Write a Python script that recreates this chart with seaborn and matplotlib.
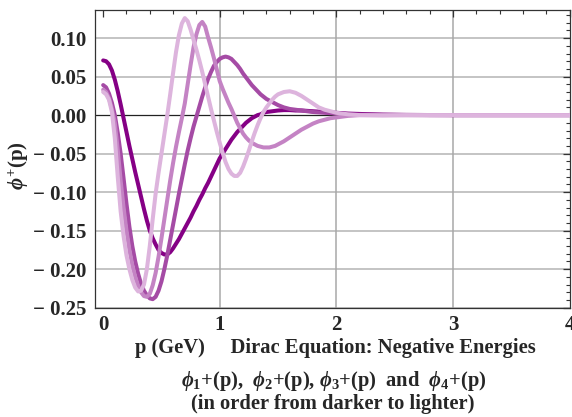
import numpy as np
import pandas as pd
import matplotlib
matplotlib.use("Agg")
import matplotlib.pyplot as plt
from matplotlib.ticker import MultipleLocator, FuncFormatter
import seaborn as sns

# ---- data ----
p_vals = [0.000, 0.025, 0.050, 0.075, 0.100, 0.125, 0.150, 0.175, 0.200, 0.225,
          0.250, 0.275, 0.300, 0.325, 0.350, 0.375, 0.400, 0.425, 0.450, 0.475,
          0.500, 0.525, 0.550, 0.575, 0.600, 0.625, 0.650, 0.675, 0.700, 0.725,
          0.750, 0.775, 0.800, 0.825, 0.850, 0.875, 0.900, 0.925, 0.950, 0.975,
          1.000, 1.025, 1.050, 1.075, 1.100, 1.125, 1.150, 1.175, 1.200, 1.225,
          1.250, 1.275, 1.300, 1.325, 1.350, 1.375, 1.400, 1.425, 1.450, 1.475,
          1.500, 1.550, 1.600, 1.650, 1.700, 1.750, 1.800, 1.850, 1.900, 1.950,
          2.000, 2.050, 2.100, 2.200, 2.400, 2.600, 2.800, 3.000, 3.500, 4.000]

phi1 = [0.071, 0.070, 0.066, 0.058, 0.046, 0.031, 0.014, -0.004, -0.022, -0.040,
        -0.057, -0.074, -0.090, -0.106, -0.122, -0.137, -0.150, -0.160, -0.168, -0.175,
        -0.179, -0.181, -0.181, -0.178, -0.173, -0.167, -0.161, -0.154, -0.147, -0.140,
        -0.133, -0.125, -0.118, -0.110, -0.103, -0.095, -0.088, -0.080, -0.072, -0.064,
        -0.056, -0.050, -0.044, -0.038, -0.032, -0.027, -0.022, -0.018, -0.014, -0.010,
        -0.007, -0.004, -0.002, 0.000, 0.001, 0.003, 0.004, 0.0045, 0.005, 0.0055,
        0.006, 0.0065, 0.0065, 0.006, 0.006, 0.0055, 0.005, 0.0045, 0.004, 0.0035,
        0.003, 0.0025, 0.002, 0.0015, 0.0007, 0.0003, 0.0001, 0.0, 0.0, 0.0]

phi2 = [0.039, 0.036, 0.028, 0.016, 0.000, -0.023, -0.050, -0.082, -0.115, -0.145,
        -0.170, -0.190, -0.206, -0.219, -0.228, -0.234, -0.238, -0.239, -0.236, -0.228,
        -0.216, -0.200, -0.182, -0.162, -0.142, -0.122, -0.102, -0.083, -0.064, -0.046,
        -0.030, -0.015, -0.002, 0.011, 0.024, 0.036, 0.047, 0.056, 0.064, 0.069,
        0.073, 0.075, 0.076, 0.075, 0.073, 0.069, 0.065, 0.060, 0.054, 0.049,
        0.044, 0.039, 0.035, 0.031, 0.027, 0.024, 0.021, 0.019, 0.017, 0.015,
        0.013, 0.010, 0.008, 0.007, 0.006, 0.005, 0.004, 0.0035, 0.003, 0.0025,
        0.002, 0.0015, 0.001, 0.0005, 0.0002, 0.0001, 0.0, 0.0, 0.0, 0.0]

phi3 = [0.033, 0.030, 0.022, 0.008, -0.010, -0.045, -0.085, -0.120, -0.150, -0.175,
        -0.195, -0.210, -0.222, -0.230, -0.235, -0.236, -0.232, -0.221, -0.205, -0.184,
        -0.160, -0.135, -0.110, -0.085, -0.062, -0.041, -0.022, -0.004, 0.015, 0.040,
        0.065, 0.088, 0.105, 0.117, 0.121, 0.115, 0.101, 0.088, 0.074, 0.059,
        0.044, 0.034, 0.025, 0.016, 0.008, -0.001, -0.010, -0.017, -0.024, -0.029,
        -0.033, -0.036, -0.038, -0.040, -0.041, -0.042, -0.042, -0.042, -0.041, -0.040,
        -0.038, -0.034, -0.029, -0.024, -0.019, -0.015, -0.011, -0.008, -0.006, -0.004,
        -0.003, -0.002, -0.001, 0.0, 0.0, 0.0, 0.0, 0.0, 0.0, 0.0]

phi4 = [0.030, 0.027, 0.020, 0.004, -0.030, -0.080, -0.125, -0.157, -0.182, -0.200,
        -0.214, -0.224, -0.229, -0.228, -0.220, -0.200, -0.170, -0.135, -0.102, -0.075,
        -0.050, -0.025, 0.000, 0.027, 0.055, 0.082, 0.104, 0.119, 0.126, 0.122,
        0.111, 0.098, 0.085, 0.071, 0.056, 0.040, 0.024, 0.008, -0.007, -0.022,
        -0.036, -0.049, -0.061, -0.070, -0.076, -0.079, -0.079, -0.075, -0.067, -0.057,
        -0.046, -0.034, -0.023, -0.013, -0.004, 0.004, 0.010, 0.015, 0.020, 0.024,
        0.027, 0.030, 0.031, 0.029, 0.025, 0.020, 0.015, 0.010, 0.007, 0.005,
        0.003, 0.002, 0.001, 0.0, -0.0005, 0.0, 0.0, 0.0, 0.0, 0.0]

state_names = ["phi1", "phi2", "phi3", "phi4"]
colors = ["#850085", "#A54BA5", "#C483C4", "#DDB4DD"]

y_major = [-0.25, -0.20, -0.15, -0.10, -0.05, 0.00, 0.05, 0.10]
x_major = [0, 1, 2, 3, 4]

df = pd.DataFrame({
    "p": p_vals * 4,
    "phi": phi1 + phi2 + phi3 + phi4,
    "state": sum([[s] * len(p_vals) for s in state_names], []),
})

sns.set_style("white")
plt.rcParams["font.family"] = ["Liberation Serif", "DejaVu Serif"]
plt.rcParams["font.weight"] = "bold"
plt.rcParams["mathtext.fontset"] = "custom"
plt.rcParams["mathtext.rm"] = "Liberation Serif:bold"
plt.rcParams["mathtext.it"] = "Liberation Serif:italic:bold"
plt.rcParams["mathtext.bf"] = "Liberation Serif:bold"

fig = plt.figure(figsize=(5.72, 4.17), dpi=100)
ax = fig.add_axes([95 / 572, 1 - 308 / 417, 474.5 / 572, 298 / 417])

# grid
for yv in y_major:
    if yv != 0:
        ax.axhline(yv, color="#b4b4b4", lw=1.1, zorder=0)
for xv in x_major[1:-1]:
    ax.axvline(xv, color="#a8a8a8", lw=1.1, zorder=0)
ax.axhline(0, color="#222222", lw=0.9, zorder=1)

sns.lineplot(data=df, x="p", y="phi", hue="state", palette=colors,
             hue_order=state_names, linewidth=2.9, legend=False, ax=ax,
             zorder=3, sort=False)

ax.set_xlim(-0.07, 4.0)
ax.set_ylim(-0.2505, 0.1365)
ax.xaxis.set_major_locator(MultipleLocator(1))
ax.xaxis.set_minor_locator(MultipleLocator(0.2))
ax.yaxis.set_major_locator(MultipleLocator(0.05))
ax.yaxis.set_minor_locator(MultipleLocator(0.01))


def yfmt(v, pos):
    if abs(v) < 1e-9:
        return "0.00"
    if v < 0:
        return "\u2212 " + f"{abs(v):.2f}"
    return f"{v:.2f}"


ax.yaxis.set_major_formatter(FuncFormatter(yfmt))
ax.xaxis.set_major_formatter(FuncFormatter(lambda v, pos: f"{int(round(v))}"))

ax.tick_params(axis="both", which="both", direction="in", top=True, right=True,
               color="#333333", labelsize=15)
ax.tick_params(which="major", length=5, width=0.9)
ax.tick_params(which="minor", length=3, width=0.8)
ax.tick_params(axis="x", pad=5)
ax.tick_params(axis="y", pad=6)
for lab in ax.get_xticklabels() + ax.get_yticklabels():
    lab.set_fontweight("bold")

for s in ax.spines.values():
    s.set_color("#333333")
    s.set_linewidth(0.9)

ax.set_xlabel("")
ax.set_ylabel("")

fig.text(19 / 572, 1 - 166 / 417, r"$\phi^{+}$(p)", rotation=90, ha="center",
         va="center", fontsize=15, fontweight="bold")

fig.text(335 / 572, 1 - 348 / 417,
         "p (GeV)     Dirac Equation: Negative Energies",
         ha="center", va="center", fontsize=14.8, fontweight="bold")
fig.text(334 / 572, 1 - 381 / 417,
         r"$\phi_1$+(p),  $\phi_2$+(p), $\phi_3$+(p)  and  $\phi_4$+(p)",
         ha="center", va="center", fontsize=14.8, fontweight="bold")
fig.text(333 / 572, 1 - 404 / 417,
         "(in order from darker to lighter)",
         ha="center", va="center", fontsize=14.8, fontweight="bold")

fig.savefig("out.png", dpi=100)
